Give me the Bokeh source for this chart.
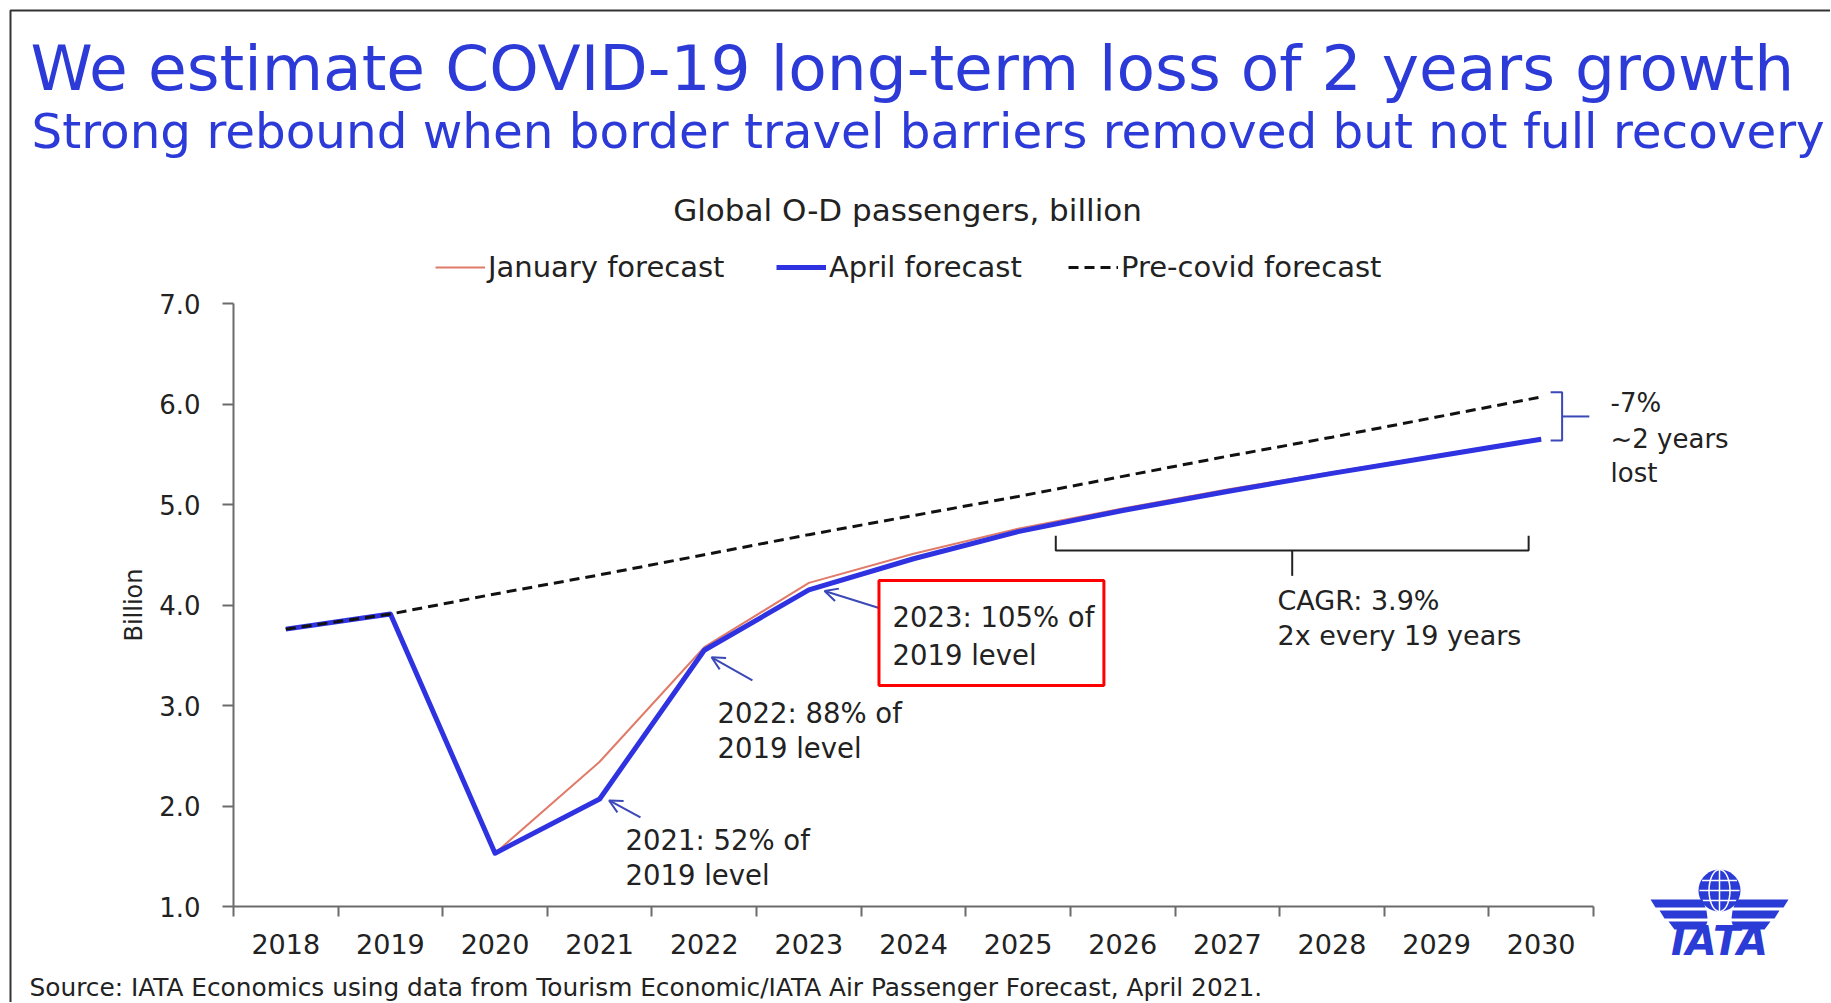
import math
from bokeh.plotting import figure
from bokeh.models import (Range1d, FixedTicker, NumeralTickFormatter, Label, Legend, LegendItem,
                          Arrow, OpenHead, BoxAnnotation, PolyAnnotation, LinearAxis)
from bokeh.embed import file_html
from bokeh.resources import INLINE

# ---------------- data ----------------
YEARS = [2018, 2019, 2020, 2021, 2022, 2023, 2024, 2025, 2026, 2027, 2028, 2029, 2030]
JANUARY = [3.76, 3.91, 1.53, 2.44, 3.58, 4.22, 4.51, 4.76, 4.96, 5.15, 5.32, 5.49, 5.66]
APRIL = [3.76, 3.91, 1.53, 2.07, 3.55, 4.15, 4.46, 4.73, 4.94, 5.13, 5.31, 5.48, 5.65]
PRE_COVID = [3.76, 3.91, 4.11, 4.30, 4.50, 4.70, 4.89, 5.08, 5.28, 5.48, 5.67, 5.87, 6.07]
Y_TICKS = [1, 2, 3, 4, 5, 6, 7]
SERIES_NAMES = ["January forecast", "April forecast", "Pre-covid forecast"]

TITLE = "We estimate COVID-19 long-term loss of 2 years growth"
SUBTITLE = "Strong rebound when border travel barriers removed but not full recovery"
CHART_TITLE = "Global O-D passengers, billion"
SOURCE = "Source: IATA Economics using data from Tourism Economic/IATA Air Passenger Forecast, April 2021."

FONT = "DejaVu Sans"
BLUE_T = "#2C3AD8"
BLUE = "#2F32E0"
RED = "#E07B6A"
NAVY = "#3A48B8"
TXT = "#222222"
AX = "#6b6b6b"

# ---------------- geometry (canvas covers the whole drawing) ----------------
W, H = 1830, 1002
PLOT_L, PLOT_R = 233, 1593      # canvas px of axis span
PLOT_T, PLOT_B = 303, 906
X0, X1 = YEARS[0] - 0.5, YEARS[-1] + 0.5
Y0, Y1 = Y_TICKS[0], Y_TICKS[-1]
sx = (PLOT_R - PLOT_L) / (X1 - X0)
sy = (PLOT_B - PLOT_T) / (Y1 - Y0)
xr = Range1d(X0 - PLOT_L / sx, X1 + (W - PLOT_R) / sx)
yr = Range1d(Y0 - (H - PLOT_B) / sy, Y1 + PLOT_T / sy)


def rel(px, py):
    """page pixel -> frame screen units (frame == canvas)."""
    return px, H - py


p = figure(width=W, height=H, output_backend="svg", toolbar_location=None,
           x_range=xr, y_range=yr, x_axis_type=None, y_axis_type=None,
           title_location=None, min_border=0,
           background_fill_color="white", border_fill_color="white")
p.outline_line_color = None
p.grid.visible = False

# x axis: labels at centers, ticks at boundaries
xax = LinearAxis(fixed_location=Y0, bounds=(X0, X1),
                 ticker=FixedTicker(ticks=YEARS, minor_ticks=[y - 0.5 for y in YEARS] + [X1]))
xax.major_tick_out = 0
xax.major_tick_in = 0
xax.minor_tick_out = 10
xax.minor_tick_in = 0
xax.minor_tick_line_color = AX
xax.minor_tick_line_width = 2
xax.axis_line_color = AX
xax.axis_line_width = 2
xax.major_label_standoff = 17
xax.major_label_text_font = FONT
xax.major_label_text_font_size = "27px"
xax.major_label_text_color = TXT
p.add_layout(xax, "below")

yax = LinearAxis(fixed_location=X0, bounds=(Y0, Y1),
                 ticker=FixedTicker(ticks=Y_TICKS, minor_ticks=[]),
                 formatter=NumeralTickFormatter(format="0.0"))
yax.major_tick_out = 11
yax.major_tick_in = 0
yax.minor_tick_out = 0
yax.minor_tick_in = 0
yax.major_tick_line_color = AX
yax.major_tick_line_width = 2
yax.axis_line_color = AX
yax.axis_line_width = 2
yax.major_label_standoff = 22
yax.major_label_text_font = FONT
yax.major_label_text_font_size = "26px"
yax.major_label_text_color = TXT
yax.axis_label = "Billion"
yax.axis_label_text_font = FONT
yax.axis_label_text_font_size = "24px"
yax.axis_label_text_font_style = "normal"
yax.axis_label_text_color = TXT
yax.axis_label_standoff = 8
p.add_layout(yax, "left")

# ---------------- series ----------------
r_jan = p.line(YEARS, JANUARY, line_color=RED, line_width=2)
r_apr = p.line(YEARS, APRIL, line_color=BLUE, line_width=5, line_join="round")
r_pre = p.line(YEARS, PRE_COVID, line_color="#111111", line_width=3, line_dash="10 6")

for name, rend, lx in zip(SERIES_NAMES, [r_jan, r_apr, r_pre], [435, 776, 1068]):
    x0, y0 = rel(lx, 284)
    lg = Legend(items=[LegendItem(label=name, renderers=[rend])], location=(x0, y0),
                orientation="horizontal", glyph_width=50, glyph_height=30, label_height=30,
                label_standoff=3, padding=0, margin=0, spacing=0,
                border_line_alpha=0, background_fill_alpha=0,
                label_text_font=FONT, label_text_font_size="29px", label_text_color=TXT)
    p.add_layout(lg)


def lab(text, px, py, size, color=TXT, align="left", style="normal"):
    # py is the wanted baseline; shift up by the font descent
    x, y = rel(px, py - 0.30 * size - 2)
    p.add_layout(Label(x=x, y=y, x_units="screen", y_units="screen", text=text,
                       text_font=FONT, text_font_size=f"{size}px", text_color=color,
                       text_align=align, text_baseline="alphabetic", text_font_style=style))


# titles
lab(TITLE, 30, 89, 63, BLUE_T)
lab(SUBTITLE, 31, 147, 48.4, BLUE_T)
lab(CHART_TITLE, 907, 221, 31, TXT, align="center")
lab(SOURCE, 29, 996, 24.8, TXT)

# callouts
lab("2021: 52% of", 625, 850, 27.5)
lab("2019 level", 625, 885, 27.5)
lab("2022: 88% of", 717, 723, 27.5)
lab("2019 level", 717, 758, 27.5)
lab("2023: 105% of", 892, 627, 27.5)
lab("2019 level", 892, 665, 27.5)
lab("CAGR: 3.9%", 1277, 610, 27)
lab("2x every 19 years", 1277, 645, 27)
lab("-7%", 1610, 412, 26)
lab("~2 years", 1610, 448, 26)
lab("lost", 1610, 482, 26)

# arrows (data coords of tail/head)
ARROWS = [((2021.39, 1.886), (2021.09, 2.055)),
          ((2022.46, 3.25), (2022.07, 3.48)),
          ((2023.67, 3.97), (2023.15, 4.14))]
for (xs_, ys_), (xe_, ye_) in ARROWS:
    p.add_layout(Arrow(x_start=xs_, y_start=ys_, x_end=xe_, y_end=ye_, line_color=NAVY, line_width=2,
                       end=OpenHead(size=13, line_color=NAVY, line_width=2)))

# red highlight box
p.add_layout(BoxAnnotation(left=2023.67, right=2025.82, bottom=3.199, top=4.244,
                           fill_alpha=0, line_color="#FF0000", line_width=3, line_alpha=1))

# brackets
p.line([2025.36, 2025.36, 2029.88, 2029.88], [4.69, 4.542, 4.542, 4.69], line_color="#222222", line_width=2)
p.line([2027.62, 2027.62], [4.542, 4.29], line_color="#222222", line_width=2)
p.line([2030.09, 2030.2, 2030.2, 2030.09], [6.117, 6.117, 5.637, 5.637], line_color=NAVY, line_width=2)
p.line([2030.2, 2030.46], [5.876, 5.876], line_color=NAVY, line_width=2)


def poly(pts, fill=None, line=None, lw=1):
    xs = [rel(a, b)[0] for a, b in pts]
    ys = [rel(a, b)[1] for a, b in pts]
    p.add_layout(PolyAnnotation(xs=xs, ys=ys, xs_units="screen", ys_units="screen",
                                fill_color=fill or "white", fill_alpha=1 if fill else 0,
                                line_color=line or "white", line_alpha=1 if line else 0,
                                line_width=lw))


# slide border (top + left edges)
poly([(10, 10), (1900, 10), (1900, 1100), (10, 1100)], line="#333333", lw=2)

# IATA logo
LOGO = "#2A3BD6"
cx, cy, rr = 1719, 890, 21
circle = [(cx + rr * math.cos(t * math.pi / 18), cy + rr * math.sin(t * math.pi / 18)) for t in range(36)]
poly(circle, fill=LOGO)
for dy in (-10, 0, 10):
    half = math.sqrt(rr * rr - dy * dy)
    poly([(cx - half + 1, cy + dy), (cx + half - 1, cy + dy)], line="white", lw=1.5)
for k in (0.0, 0.5):
    ell = [(cx + rr * k * math.cos(t * math.pi / 18), cy + rr * math.sin(t * math.pi / 18)) for t in range(36)]
    poly(ell, line="white", lw=1.5)
stripes = [((1650, 899), (1702, 899), (1705, 907), (1655, 907)),
           ((1659, 910), (1706, 910), (1707, 918), (1664, 918)),
           ((1668, 921), (1707, 921), (1704, 929), (1674, 929))]
for s in stripes:
    poly(list(s), fill=LOGO)
    poly([(2 * cx - a, b) for a, b in s], fill=LOGO)
lx_, ly_ = rel(1719, 950 - 0.24 * 40)
p.add_layout(Label(x=lx_, y=ly_, x_units="screen", y_units="screen", text="IATA", text_font=FONT,
                   text_font_size="40px", text_font_style="bold italic", text_color=LOGO,
                   text_align="center", text_baseline="alphabetic"))

open("out.html", "w").write(file_html(p, INLINE))
